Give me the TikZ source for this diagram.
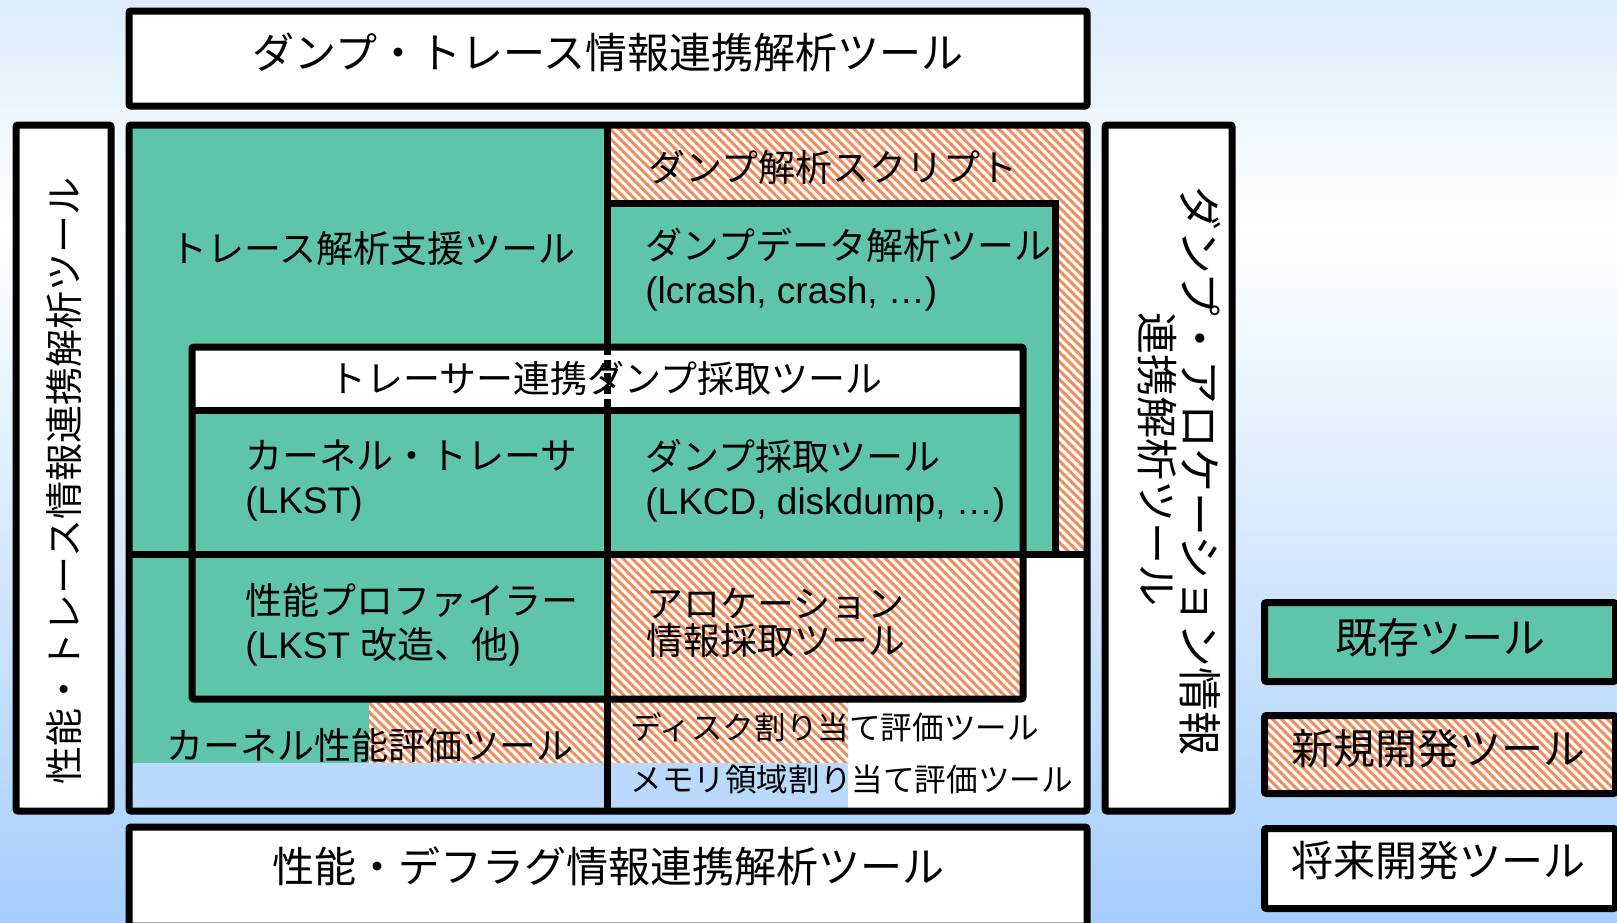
\documentclass[tikz,border=0pt]{standalone}
\usepackage{fontspec}
\setmainfont{Liberation Sans}
\newfontfamily\jpfont{Noto Sans CJK JP}
\usetikzlibrary{patterns.meta}
\definecolor{tealfillc}{RGB}{95,197,170}
\definecolor{hatchor}{RGB}{242,140,90}
\definecolor{lblue}{RGB}{185,218,252}
\definecolor{bgtop}{RGB}{220,236,252}
\definecolor{bgbot}{RGB}{165,206,252}
\newcommand{\jt}[1]{{\jpfont #1}}
\begin{document}
\begin{tikzpicture}[x=0.5pt,y=-0.5pt,
  boxframe/.style={draw=black,line width=3.5pt,rounded corners=1pt},
  bline/.style={draw=black,line width=3.5pt},
  tealf/.style={fill=tealfillc},
  hatchf/.style={preaction={fill=white},pattern={Lines[angle=-45,distance=3.2pt,line width=1.5pt]},pattern color=hatchor},
  bluef/.style={fill=lblue},
  ttl/.style={inner sep=0pt,font=\fontsize{21}{21}\selectfont\jpfont},
  lbl/.style={inner sep=0pt,anchor=west,align=left,font=\fontsize{18.5}{22}\selectfont},
  smalltxt/.style={inner sep=0pt,anchor=west,font=\fontsize{15.8}{19}\selectfont\jpfont},
]
\useasboundingbox (0,0) rectangle (1617,922);
\clip (0,0) rectangle (1617,922);
% background
\shade[top color=bgtop,bottom color=white] (0,0) rectangle (1617,228);
\shade[top color=white,bottom color=bgbot] (0,227) rectangle (1617,922);

% top and bottom boxes
\draw[boxframe,fill=white] (129,11) rectangle (1087,106);
\node[ttl] (toptitle) at (608,52) {ダンプ・トレース情報連携解析ツール};
\draw[boxframe,fill=white] (129,827) rectangle (1087,926);
\node[ttl] (bottitle) at (608,866) {性能・デフラグ情報連携解析ツール};

% side boxes
\draw[boxframe,fill=white] (16,125) rectangle (111,811);
\node[ttl,rotate=90,font=\fontsize{19}{19}\selectfont\jpfont] (lefttxt) at (64,481) {性能・トレース情報連携解析ツール};
\draw[boxframe,fill=white] (1105,125) rectangle (1232,811);
\node[ttl,rotate=-90,font=\fontsize{22}{22}\selectfont\jpfont] (righttxta) at (1200,471) {ダンプ・アロケーション情報};
\node[ttl,rotate=-90,font=\fontsize{21}{21}\selectfont\jpfont] (righttxtb) at (1157,459) {連携解析ツール};

% main box fills
\fill[tealf] (129,125) rectangle (607,763);
\path[hatchf] (369,699) rectangle (607,763);
\fill[bluef] (129,763) rectangle (607,811);
\path[hatchf] (607,125) rectangle (1087,554);
\fill[tealf] (607,203) rectangle (1055,554);
\fill[white] (607,554) rectangle (1087,811);
\path[hatchf] (607,554) rectangle (1023,699);
\path[hatchf] (607,699) rectangle (848,763);
\fill[bluef] (607,763) rectangle (848,811);
\fill[white] (192,347) rectangle (1023,410);

% main box lines
\draw[bline] (129,554) -- (1087,554);
\draw[bline] (607,203) -- (1055,203) -- (1055,554);
\draw[bline] (607,125) -- (607,347);
\draw[bline] (607,410) -- (607,811);
\draw[bline,dash pattern=on 4pt off 2.5pt] (607,347) -- (607,410);
\draw[boxframe] (192,347) rectangle (1023,699);
\draw[bline] (192,410) -- (1023,410);
\draw[boxframe] (129,125) rectangle (1087,811);

% texts in main box
\node[lbl,font=\fontsize{18.5}{22}\selectfont\jpfont] (script) at (648,167) {ダンプ解析スクリプト};
\node[lbl,font=\fontsize{18.5}{22}\selectfont\jpfont] (trsupport) at (170,248) {トレース解析支援ツール};
\node[lbl] (dumpdata) at (645,270) {\jt{ダンプデータ解析ツール}\\(lcrash, crash, …)};
\node[ttl,font=\fontsize{18.5}{22}\selectfont\jpfont] (header) at (606,378) {トレーサー連携ダンプ採取ツール};
\node[lbl] (ktracer) at (245,481) {\jt{カーネル・トレーサ}\\(LKST)};
\node[lbl] (dumpget) at (645,481) {\jt{ダンプ採取ツール}\\(LKCD, diskdump, …)};
\node[lbl] (profiler) at (245,625) {\jt{性能プロファイラー}\\(LKST \jt{改造、他})};
\node[lbl,font=\fontsize{18.5}{18.5}\selectfont\jpfont] (alloc) at (646,623) {アロケーション\\情報採取ツール};
\node[lbl,font=\fontsize{18.5}{22}\selectfont\jpfont] (kperf) at (166,745) {カーネル性能評価ツール};
\node[smalltxt] (disk) at (630,727) {ディスク割り当て評価ツール};
\node[smalltxt] (mem) at (630,780) {メモリ領域割り当て評価ツール};

% legend
\draw[boxframe,tealf] (1264.5,602.5) rectangle (1615.5,681.5);
\node[ttl] (leg1) at (1440,638) {既存ツール};
\path[hatchf] (1264.5,715.5) rectangle (1615.5,793.5);
\draw[boxframe] (1264.5,715.5) rectangle (1615.5,793.5);
\node[ttl] (leg2) at (1438,749) {新規開発ツール};
\draw[boxframe,fill=white] (1264.5,828.5) rectangle (1615.5,908.5);
\node[ttl] (leg3) at (1438,861) {将来開発ツール};
\end{tikzpicture}
\end{document}
